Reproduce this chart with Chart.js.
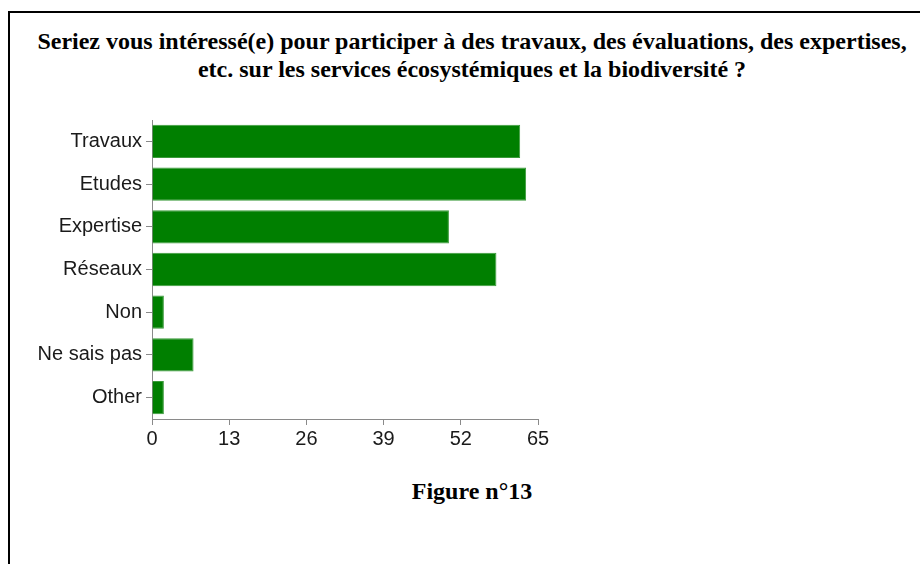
<!DOCTYPE html>
<html>
<head>
<meta charset="utf-8">
<script src="https://cdn.jsdelivr.net/npm/chart.js@4.4.0/dist/chart.umd.min.js"></script>
<style>
  html, body { margin: 0; padding: 0; background: #fff; }
  body { width: 920px; height: 564px; position: relative; overflow: hidden; }
  .frame {
    position: absolute; left: 8px; top: 11px; width: 1000px; height: 1000px;
    border-left: 2px solid #000; border-top: 2px solid #000;
  }
  .title {
    position: absolute; left: 0; width: 944px; top: 27px; text-align: center;
    font-family: "Liberation Serif", "Times New Roman", serif; font-weight: bold;
    font-size: 24px; line-height: 28px; color: #000;
  }
  .caption {
    position: absolute; left: 0; width: 944px; top: 478px; text-align: center;
    font-family: "Liberation Serif", "Times New Roman", serif; font-weight: bold;
    font-size: 24px; color: #000;
  }
  .chart-box { position: absolute; left: 0; top: 104px; width: 560px; height: 360px; }
</style>
</head>
<body>
<div class="frame"></div>
<div class="title">Seriez vous intéressé(e) pour participer à des travaux, des évaluations, des expertises,<br>etc. sur les services écosystémiques et la biodiversité ?</div>
<div class="chart-box"><canvas id="barChart"></canvas></div>
<div class="caption">Figure n°13</div>

<script>
// Réponses (nombre de personnes)
const categories = ['Travaux', 'Etudes', 'Expertise', 'Réseaux', 'Non', 'Ne sais pas', 'Other'];
const counts = [62, 63, 50, 58, 2, 7, 2];
const xTicks = [0, 13, 26, 39, 52, 65];

const axisGrey = '#8a8a8a';
const labelFont = { family: '"Liberation Sans", Arial, sans-serif', size: 20 };

document.addEventListener('DOMContentLoaded', () => {
  initBarChart();
});

function initBarChart() {
  const ctx = document.getElementById('barChart');
  if (!ctx) return;
  new Chart(ctx, {
    type: 'bar',
    data: {
      labels: categories,
      datasets: [{
        data: counts,
        backgroundColor: '#007f00',
        borderColor: '#3a9a3a',
        borderWidth: 1,
        categoryPercentage: 1,
        barPercentage: 0.78
      }]
    },
    options: {
      indexAxis: 'y',
      responsive: true,
      maintainAspectRatio: false,
      animation: false,
      events: [],
      layout: { padding: { top: 10, right: 22, bottom: 0, left: 0 } },
      plugins: { legend: { display: false }, tooltip: { enabled: false } },
      scales: {
        x: {
          min: xTicks[0],
          max: xTicks[xTicks.length - 1],
          afterBuildTicks: scale => { scale.ticks = xTicks.map(v => ({ value: v })); },
          afterFit: scale => { scale.height = 45; },
          border: { color: axisGrey, width: 1 },
          grid: { drawOnChartArea: false, color: axisGrey, tickLength: 6 },
          ticks: { color: '#1a1a1a', font: labelFont, padding: 2, maxRotation: 0 }
        },
        y: {
          afterFit: scale => { scale.width = 152; },
          border: { color: axisGrey, width: 1 },
          grid: { drawOnChartArea: false, offset: false, color: axisGrey, tickLength: 6 },
          ticks: { color: '#1a1a1a', font: labelFont, padding: 4 }
        }
      }
    }
  });
}
</script>
</body>
</html>
